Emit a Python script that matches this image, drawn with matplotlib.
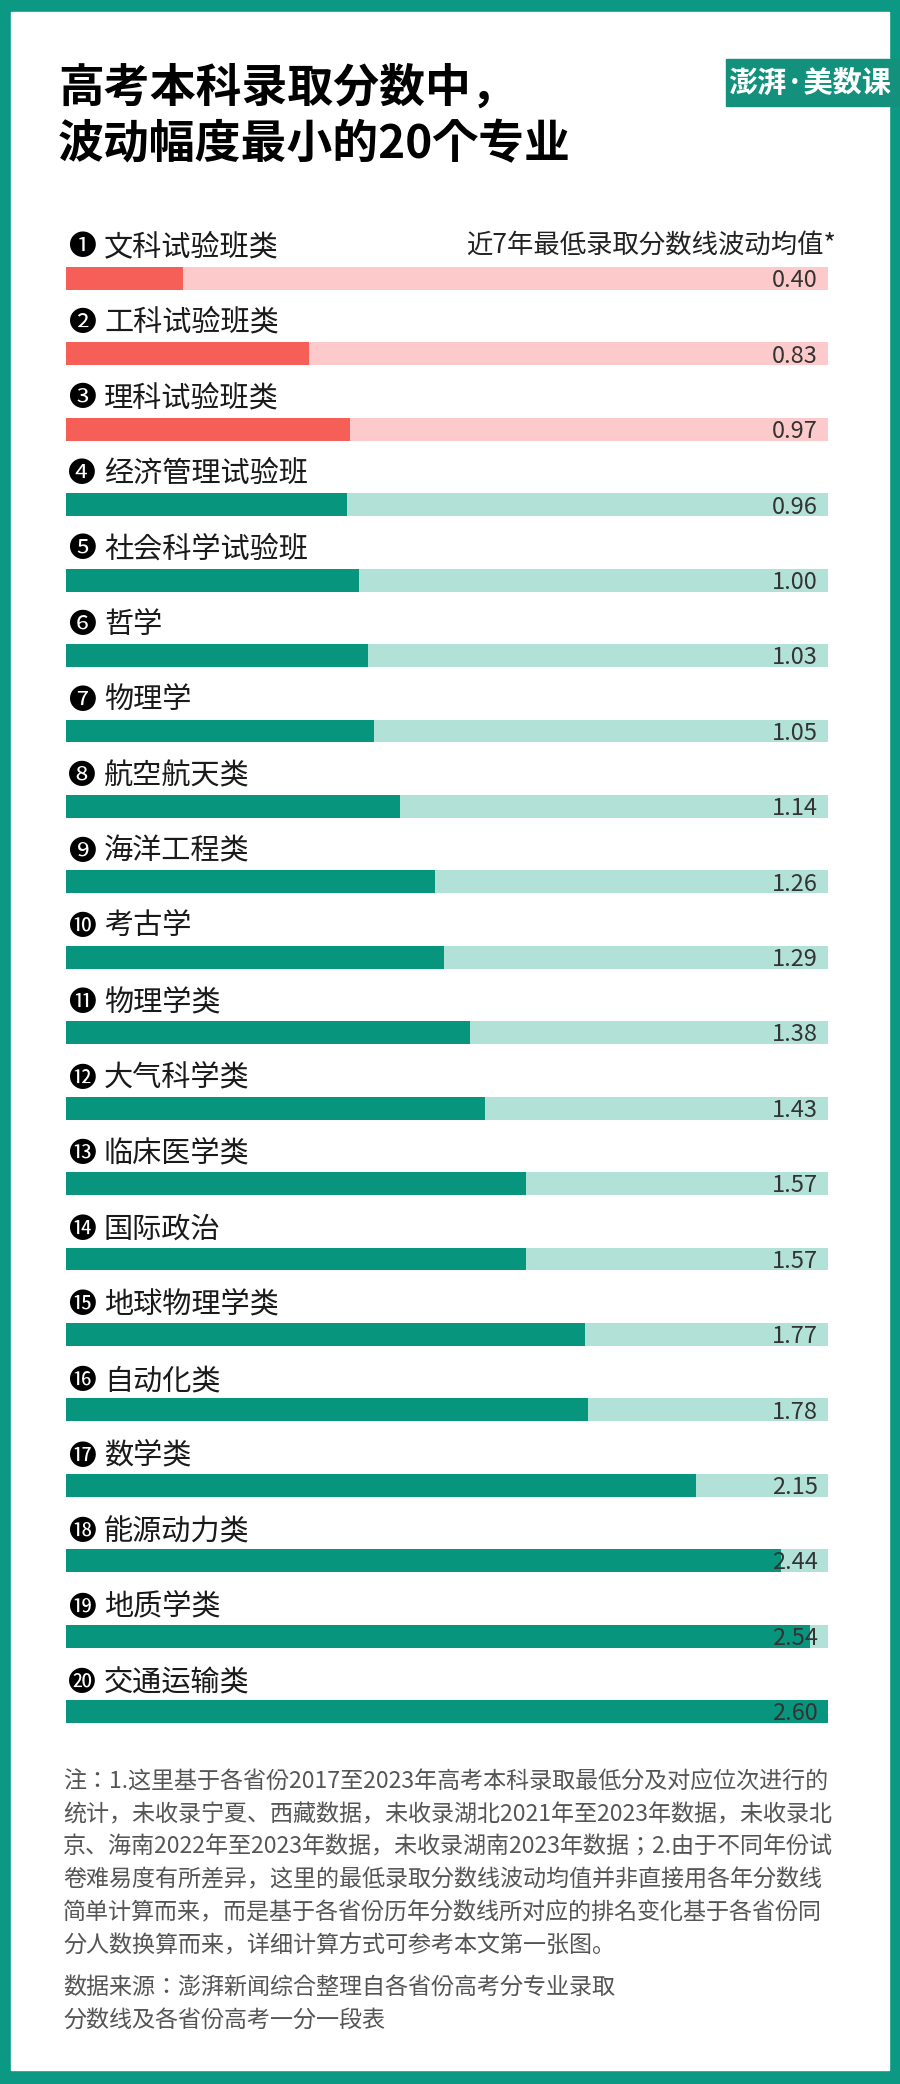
import matplotlib.pyplot as plt
from matplotlib.patches import Rectangle
from matplotlib import font_manager

names = {f.name for f in font_manager.fontManager.ttflist}
cjk = [n for n in ["Noto Sans CJK SC", "Noto Sans CJK JP", "Noto Sans CJK TC", "Noto Sans CJK KR"] if n in names]
plt.rcParams["font.family"] = cjk[:1] + ["DejaVu Sans"]

majors = ["文科试验班类", "工科试验班类", "理科试验班类", "经济管理试验班", "社会科学试验班",
          "哲学", "物理学", "航空航天类", "海洋工程类", "考古学", "物理学类", "大气科学类",
          "临床医学类", "国际政治", "地球物理学类", "自动化类", "数学类", "能源动力类",
          "地质学类", "交通运输类"]
values = [0.40, 0.83, 0.97, 0.96, 1.00, 1.03, 1.05, 1.14, 1.26, 1.29, 1.38, 1.43,
          1.57, 1.57, 1.77, 1.78, 2.15, 2.44, 2.54, 2.60]
nums = ["❶", "❷", "❸", "❹", "❺", "❻", "❼", "❽", "❾", "❿",
        "⓫", "⓬", "⓭", "⓮", "⓯", "⓰", "⓱", "⓲", "⓳", "⓴"]
n_red = 3
xmax = 2.6

W, H = 900, 2084
teal = "#0b9983"
fig = plt.figure(figsize=(W / 100, H / 100), dpi=100)
fig.patch.set_facecolor(teal)

# background / text layer in pixel coordinates
bg = fig.add_axes([0, 0, 1, 1])
bg.set_xlim(0, W)
bg.set_ylim(H, 0)
bg.axis("off")
bg.add_patch(Rectangle((11, 12), W - 22, H - 26, color="white"))
bg.add_patch(Rectangle((726, 59), 174, 47, color="#13917d"))
bg.text(810, 83, "澎湃·美数课", color="white", fontsize=21, fontweight="bold",
        ha="center", va="center")
bg.text(58, 89, "高考本科录取分数中，", fontsize=33, fontweight="bold", va="center")
bg.text(58, 145, "波动幅度最小的20个专业", fontsize=33, fontweight="bold", va="center")
bg.text(836, 245, "近7年最低录取分数线波动均值*", fontsize=19, ha="right", va="center",
        color="#222222")

row = 75.6
for i, name in enumerate(majors):
    y = 247 + row * i
    bg.text(68, y, nums[i], fontsize=20, va="center", ha="left")
    bg.text(104, y, name, fontsize=21, va="center", ha="left", color="#1a1a1a")

notes = ["注：1.这里基于各省份2017至2023年高考本科录取最低分及对应位次进行的",
         "统计，未收录宁夏、西藏数据，未收录湖北2021年至2023年数据，未收录北",
         "京、海南2022年至2023年数据，未收录湖南2023年数据；2.由于不同年份试",
         "卷难易度有所差异，这里的最低录取分数线波动均值并非直接用各年分数线",
         "简单计算而来，而是基于各省份历年分数线所对应的排名变化基于各省份同",
         "分人数换算而来，详细计算方式可参考本文第一张图。"]
for k, line in enumerate(notes):
    bg.text(63, 1782 + 32.7 * k, line, fontsize=16.6, va="center", color="#555555")
source = ["数据来源：澎湃新闻综合整理自各省份高考分专业录取", "分数线及各省份高考一分一段表"]
for k, line in enumerate(source):
    bg.text(63, 1987 + 33 * k, line, fontsize=16.6, va="center", color="#555555")

# bar layer
top, bottom, left, right = 267, 1723, 66, 828
ax = fig.add_axes([left / W, 1 - bottom / H, (right - left) / W, (bottom - top) / H])
ax.set_xlim(0, xmax)
pad = 11.5 / row
ax.set_ylim(len(majors) - 1 + pad, -pad)
ax.axis("off")
ax.patch.set_alpha(0)
bh = 23 / row
for i, v in enumerate(values):
    dark, light = ("#f65f58", "#fccaca") if i < n_red else ("#07957e", "#b2e1d8")
    ax.barh(i, xmax, height=bh, color=light)
    ax.barh(i, v, height=bh, color=dark)
    ax.text(xmax * 0.987, i + 0.03, f"{v:.2f}", fontsize=17, ha="right", va="center",
            color="#333333")

fig.savefig("out.png", dpi=100, facecolor=teal)
